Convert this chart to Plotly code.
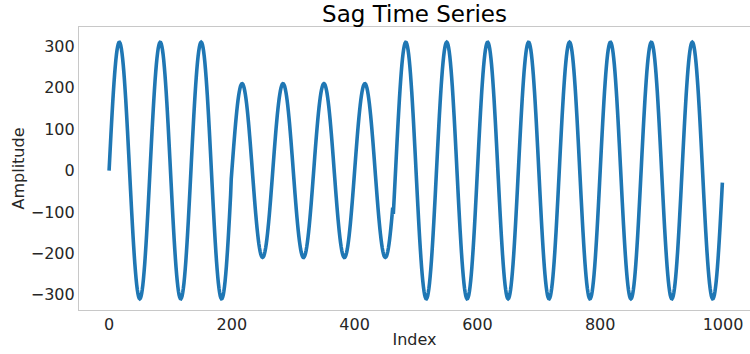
import numpy as np
import plotly.graph_objects as go

# Signal description: a sinusoid whose amplitude drops during a sag window
n_samples = 1000
cycles = 15
normal_amplitude = 310
sag_amplitude = 210
sag_window = [199, 463]  # first and last+1 index of the sag

x_ticks = [0, 200, 400, 600, 800, 1000]
y_ticks = [-300, -200, -100, 0, 100, 200, 300]

index = np.arange(n_samples)
amplitude = np.full(n_samples, float(normal_amplitude))
amplitude[sag_window[0]:sag_window[1]] = sag_amplitude
signal = amplitude * np.sin(2 * np.pi * cycles * index / n_samples)

font_family = "DejaVu Sans"
text_color = "#262626"
spine_color = "#c8c8c8"

fig = go.Figure(
    go.Scatter(
        x=index,
        y=signal,
        mode="lines",
        line=dict(color="#1f77b4", width=3.6, simplify=False),
        hoverinfo="skip",
    )
)

fig.update_layout(
    width=750,
    height=354,
    margin=dict(l=79, r=0, t=27, b=44),
    paper_bgcolor="white",
    plot_bgcolor="white",
    showlegend=False,
    font=dict(family=font_family, color=text_color, size=16),
    title=dict(
        text="Sag Time Series",
        x=0.5527,
        xanchor="center",
        y=0.962,
        yanchor="middle",
        font=dict(size=23, family=font_family, color="black"),
    ),
)

fig.update_xaxes(
    range=[-49, 1044],
    tickvals=x_ticks,
    ticktext=[str(v) for v in x_ticks],
    showgrid=False,
    zeroline=False,
    showline=True,
    linecolor=spine_color,
    linewidth=1.2,
    mirror=True,
    ticks="",
    tickfont=dict(size=16, color=text_color),
    title=dict(text="Index", font=dict(size=16, color=text_color), standoff=0),
)

fig.update_yaxes(
    range=[-337, 347],
    tickvals=y_ticks,
    showgrid=False,
    zeroline=False,
    showline=True,
    linecolor=spine_color,
    linewidth=1.2,
    ticks="",
    tickfont=dict(size=16, color=text_color),
    title=dict(text="Amplitude", font=dict(size=16, color=text_color), standoff=2),
)

fig.write_html("out.html")
